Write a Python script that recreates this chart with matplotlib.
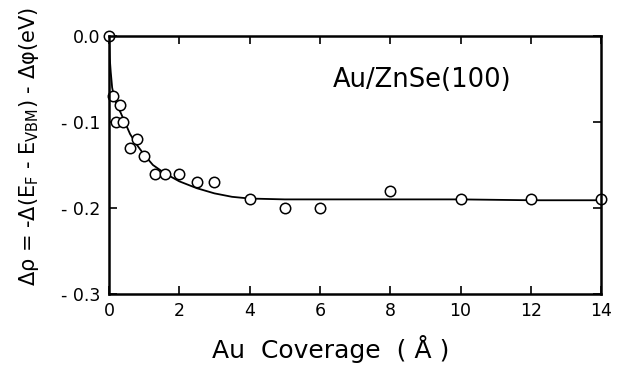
import matplotlib
matplotlib.use("Agg")
import matplotlib.pyplot as plt

plt.rcParams['font.family'] = ['DejaVu Sans']
plt.rcParams['mathtext.fontset'] = 'dejavusans'

# measured points: Au coverage (A) vs band bending change (eV)
cov = [0.0, 0.1, 0.2, 0.3, 0.4, 0.6, 0.8, 1.0, 1.3, 1.6, 2.0, 2.5, 3.0, 4.0, 5.0, 6.0, 8.0, 10.0, 12.0, 14.0]
drho = [0.0, -0.07, -0.10, -0.08, -0.10, -0.13, -0.12, -0.14, -0.16, -0.16, -0.16, -0.17, -0.17, -0.19, -0.20, -0.20, -0.18, -0.19, -0.19, -0.19]

# fitted curve
fit_x = [0.0, 0.02, 0.05, 0.09, 0.15, 0.25, 0.33, 0.45, 0.6, 0.8, 1.0, 1.25, 1.6, 2.0, 2.5, 3.0, 3.5, 4.0, 5.0, 6.0, 8.0, 10.0, 12.0, 14.0]
fit_y = [0.0, -0.025, -0.042, -0.060, -0.072, -0.083, -0.089, -0.100, -0.114, -0.127, -0.138, -0.150, -0.160, -0.169, -0.177, -0.183, -0.187, -0.189, -0.190, -0.190, -0.190, -0.190, -0.191, -0.191]

xticks = [0, 2, 4, 6, 8, 10, 12, 14]
yticks = [0.0, -0.1, -0.2, -0.3]
ylabels = ["0.0", "- 0.1", "- 0.2", "- 0.3"]

fig = plt.figure(figsize=(6.21, 3.69), dpi=100)
ax = fig.add_axes([0.1755, 0.2033, 0.7925, 0.6991])

ax.plot(fit_x, fit_y, "k-", lw=1.3)
ax.plot(cov, drho, "o", mfc="white", mec="black", ms=7.5, mew=1.1, clip_on=False)

ax.set_xlim(0, 14)
ax.set_ylim(-0.3, 0.0)
ax.set_xticks(xticks)
ax.set_yticks(yticks)
ax.set_yticklabels(ylabels)
ax.tick_params(direction="in", length=6, width=1.2, top=True, right=True,
               labelsize=12.5, pad=6)
for s in ax.spines.values():
    s.set_linewidth(1.8)

fig.text(333 / 621, 1 - 87 / 369, "Au/ZnSe(100)", ha="left", va="baseline", fontsize=18.5)

fig.text(331 / 621, 1 - 358 / 369, "Au  Coverage  ( Å )", ha="center", va="baseline",
         fontsize=18)
fig.text(29 / 621, 1 - 147 / 369,
         r"Δρ = -Δ(E$_\mathrm{F}$ - E$_\mathrm{VBM}$) - Δφ(eV)",
         ha="center", va="center", rotation=90, fontsize=15)

fig.savefig("out.png", dpi=100)
